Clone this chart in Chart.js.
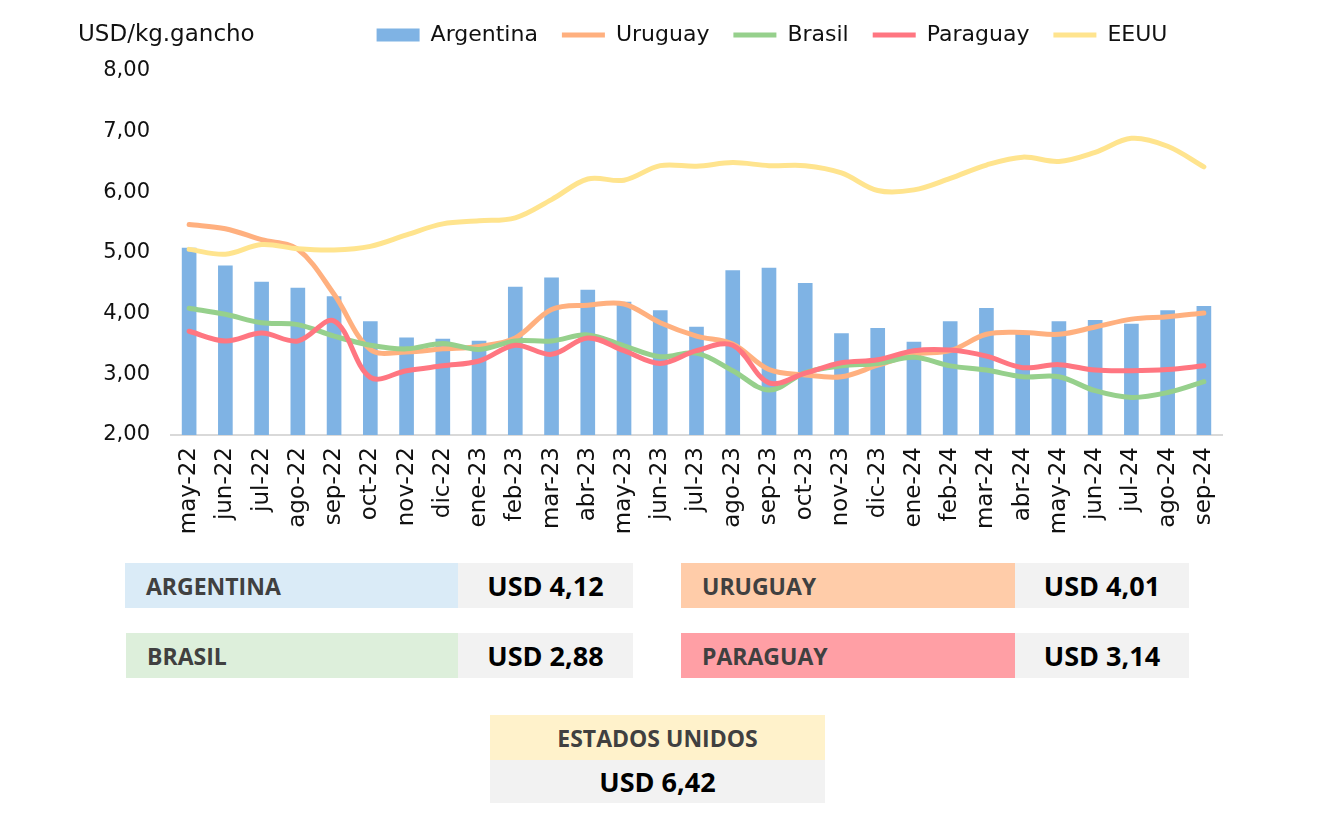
<!DOCTYPE html>
<html>
<head>
<meta charset="utf-8">
<script src="https://cdn.jsdelivr.net/npm/chart.js@4.4.1/dist/chart.umd.min.js"></script>
<style>
  html, body { margin: 0; padding: 0; background: #ffffff; }
  body { width: 1324px; height: 820px; position: relative; overflow: hidden; }
  #chartWrap { position: absolute; left: 0; top: 0; width: 1324px; height: 545px; }
  #unit { position: absolute; left: 78px; top: 18px; font-family: "DejaVu Sans", sans-serif; font-size: 23px; color: #111; line-height: 30px; }
  .cell { position: absolute; box-sizing: border-box; display: flex; align-items: center; font-family: "Open Sans", sans-serif; font-weight: 700; }
  .lab { color: #404040; font-size: 23px; padding-left: 21px; }
  .val { color: #000; font-size: 27px; justify-content: center; background: #F2F2F2; }
  .ctr { justify-content: center; padding-left: 0; }
</style>
</head>
<body>
<div id="chartWrap"><canvas id="c"></canvas></div>
<div id="unit">USD/kg.gancho</div>

<div class="cell lab" style="left:125px;top:563px;width:333px;height:45px;background:#DAEBF7;">ARGENTINA</div>
<div class="cell val" style="left:458px;top:563px;width:175px;height:45px;" id="vArg"></div>
<div class="cell lab" style="left:681px;top:563px;width:334px;height:45px;background:#FFCCA9;">URUGUAY</div>
<div class="cell val" style="left:1015px;top:563px;width:174px;height:45px;" id="vUru"></div>
<div class="cell lab" style="left:126px;top:633px;width:332px;height:45px;background:#DDEFDB;">BRASIL</div>
<div class="cell val" style="left:458px;top:633px;width:175px;height:45px;" id="vBra"></div>
<div class="cell lab" style="left:681px;top:633px;width:334px;height:45px;background:#FF9FA5;">PARAGUAY</div>
<div class="cell val" style="left:1015px;top:633px;width:174px;height:45px;" id="vPar"></div>
<div class="cell lab ctr" style="left:490px;top:715px;width:335px;height:45px;background:#FFF2CB;">ESTADOS UNIDOS</div>
<div class="cell val" style="left:490px;top:760px;width:335px;height:43px;" id="vUS"></div>

<script>
const labels = ['may-22','jun-22','jul-22','ago-22','sep-22','oct-22','nov-22','dic-22','ene-23','feb-23','mar-23','abr-23','may-23','jun-23','jul-23','ago-23','sep-23','oct-23','nov-23','dic-23','ene-24','feb-24','mar-24','abr-24','may-24','jun-24','jul-24','ago-24','sep-24'];
const argentina = [5.08,4.79,4.52,4.42,4.28,3.87,3.60,3.58,3.55,4.44,4.59,4.39,4.19,4.05,3.78,4.71,4.75,4.50,3.67,3.76,3.53,3.87,4.09,3.70,3.87,3.89,3.83,4.05,4.12];
const uruguay   = [5.47,5.40,5.22,5.06,4.32,3.41,3.37,3.42,3.46,3.60,4.07,4.14,4.16,3.85,3.63,3.50,3.08,2.99,2.96,3.15,3.33,3.39,3.66,3.69,3.66,3.78,3.91,3.95,4.01];
const brasil    = [4.09,3.99,3.85,3.82,3.63,3.48,3.42,3.51,3.41,3.55,3.55,3.65,3.47,3.29,3.35,3.06,2.74,3.03,3.14,3.18,3.28,3.14,3.07,2.96,2.96,2.73,2.62,2.70,2.88];
const paraguay  = [3.71,3.55,3.68,3.55,3.88,2.95,3.06,3.14,3.22,3.48,3.33,3.60,3.39,3.18,3.39,3.48,2.86,3.02,3.19,3.24,3.39,3.40,3.30,3.11,3.16,3.07,3.06,3.08,3.14];
const eeuu      = [5.06,4.98,5.14,5.07,5.05,5.11,5.30,5.48,5.53,5.58,5.88,6.22,6.20,6.44,6.43,6.49,6.44,6.44,6.32,6.03,6.04,6.23,6.45,6.58,6.51,6.66,6.89,6.76,6.42];
const latest = { arg: 4.12, uru: 4.01, bra: 2.88, par: 3.14, us: 6.42 };

const fmt = v => v.toFixed(2).replace('.', ',');
document.getElementById('vArg').textContent = 'USD ' + fmt(latest.arg);
document.getElementById('vUru').textContent = 'USD ' + fmt(latest.uru);
document.getElementById('vBra').textContent = 'USD ' + fmt(latest.bra);
document.getElementById('vPar').textContent = 'USD ' + fmt(latest.par);
document.getElementById('vUS').textContent  = 'USD ' + fmt(latest.us);

const FONT = '"DejaVu Sans", sans-serif';
const LEG_DX = 161, LEG_DY = 15;

const legendShift = {
  id: 'legendShift',
  afterLayout(chart) {
    const l = chart.legend;
    if (!l) return;
    l.left += LEG_DX; l.right += LEG_DX;
    l.top -= LEG_DY; l.bottom -= LEG_DY;
  }
};

function lineDs(label, data, color, order) {
  return { type: 'line', label, data, borderColor: color, backgroundColor: color, borderWidth: 5,
           pointRadius: 0, pointHoverRadius: 0, tension: 0.35, fill: false, order, pointStyle: 'line',
           borderCapStyle: 'round' };
}

new Chart(document.getElementById('c'), {
  data: {
    labels,
    datasets: [
      { type: 'bar', label: 'Argentina', data: argentina, backgroundColor: '#7FB3E4', borderWidth: 0, barThickness: 14, order: 10 },
      lineDs('Uruguay', uruguay, '#FFB07F', 4),
      lineDs('Brasil', brasil, '#96D08C', 3),
      lineDs('Paraguay', paraguay, '#FF7681', 2),
      lineDs('EEUU', eeuu, '#FFE48E', 1)
    ]
  },
  options: {
    responsive: true,
    maintainAspectRatio: false,
    animation: false,
    layout: { padding: { top: 15, right: 102, left: 0, bottom: 0 } },
    plugins: {
      tooltip: { enabled: false },
      legend: {
        position: 'top',
        labels: {
          font: { family: FONT, size: 22 },
          color: '#111',
          usePointStyle: true,
          pointStyleWidth: 43,
          boxHeight: 13,
          padding: 24,
          sort: (a, b) => a.datasetIndex - b.datasetIndex,
          generateLabels(chart) {
            const items = Chart.defaults.plugins.legend.labels.generateLabels(chart);
            items.forEach(it => {
              const ds = chart.data.datasets[it.datasetIndex];
              if (ds.type === 'bar') { it.pointStyle = 'rect'; it.lineWidth = 0; }
              else { it.pointStyle = 'line'; it.lineWidth = 5; it.strokeStyle = ds.borderColor; }
            });
            return items;
          }
        }
      }
    },
    scales: {
      x: {
        grid: { display: false, drawTicks: false },
        border: { display: true, color: '#D9D9D9', width: 2 },
        ticks: { font: { family: FONT, size: 23 }, color: '#111', minRotation: 90, maxRotation: 90, padding: 12, autoSkip: false },
        afterFit(scale) { scale.height = 110; }
      },
      y: {
        min: 2, max: 8,
        grid: { display: false, drawTicks: false },
        border: { display: false },
        ticks: { stepSize: 1, font: { family: FONT, size: 21 }, color: '#111', padding: 21, callback: v => fmt(v) },
        afterFit(scale) { scale.width = 171; }
      }
    }
  },
  plugins: [legendShift]
});
</script>
</body>
</html>
